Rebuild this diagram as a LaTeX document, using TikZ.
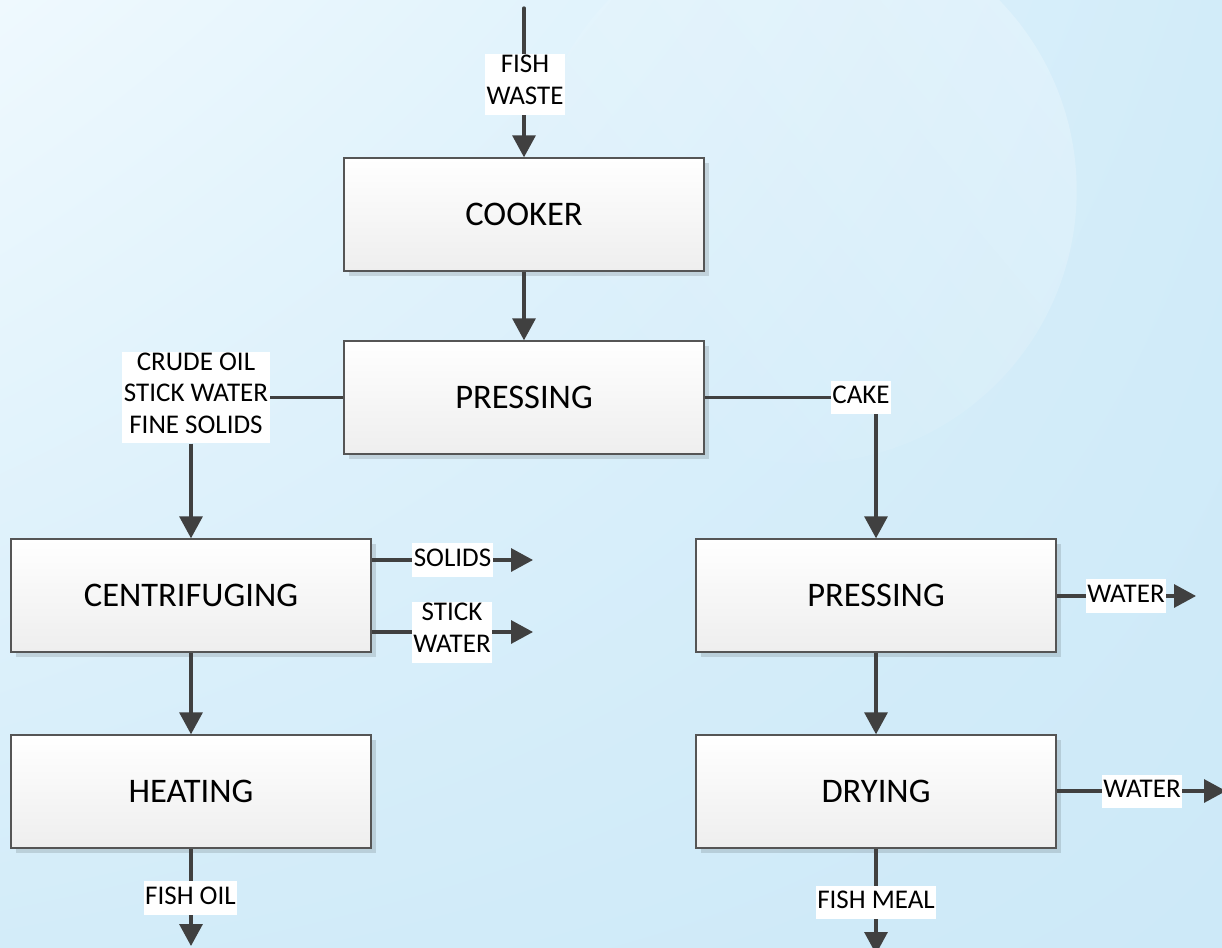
\documentclass[tikz,border=0pt]{standalone}
\usepackage{fontspec}
\setmainfont{Carlito}
\usetikzlibrary{arrows.meta,shadows,shadings,fadings}
\definecolor{lineC}{HTML}{404040}
\definecolor{boxline}{HTML}{555555}
\definecolor{boxbot}{HTML}{EEEEEE}
\definecolor{bgA}{HTML}{EFF9FE}
\definecolor{bgB}{HTML}{D2ECF9}
\definecolor{bgC}{HTML}{D3ECF9}
\definecolor{bgD}{HTML}{CDE9F8}
\newcommand\boxfont{\fontsize{34.5}{41}\selectfont}
\newcommand\lblfont{\fontsize{27}{31.5}\selectfont}
\tikzfading[name=glowfade, left color=transparent!100, right color=transparent!0]
\begin{document}
\begin{tikzpicture}[x=1pt,y=-1pt,
  box/.style={draw=boxline,line width=1.4pt,top color=white,bottom color=boxbot,
    minimum width=360pt,minimum height=113pt,font=\boxfont,
    drop shadow={shadow xshift=5pt,shadow yshift=-5pt,fill=black,opacity=0.12}},
  lbl/.style={fill=white,inner xsep=1.5pt,inner ysep=1pt,align=center,font=\lblfont,
    execute at begin node=\strut,execute at end node=\strut},
  flow/.style={draw=lineC,line width=3.3pt,-{Triangle[width=23pt,length=22pt]}},
  conn/.style={draw=lineC,line width=3.3pt}]
\useasboundingbox (0,0) rectangle (1222,947);
\shade[upper left=bgA,upper right=bgB,lower left=bgC,lower right=bgD] (0,0) rectangle (1222,947);
\fill[white,fill opacity=0.24,path fading=glowfade,fading angle=40] (804,190) circle [radius=273];

\node[box] (cooker) at (524,214.5) {COOKER};
\node[box] (press1) at (524,397.5) {PRESSING};
\node[box] (centr) at (191,595.5) {CENTRIFUGING};
\node[box] (heat) at (191,791.5) {HEATING};
\node[box] (press2) at (876,595.5) {PRESSING};
\node[box] (dry) at (876,791.5) {DRYING};

\coordinate (in) at (524,8);
\draw[flow,line cap=round] (in) -- (cooker.north);
\node[lbl] (lwaste) at (525,84.5) {FISH\\WASTE};
\draw[flow] (cooker) -- (press1);

\node[lbl] (lcrude) at (196,397.5) {CRUDE OIL\\STICK WATER\\FINE SOLIDS};
\draw[conn] (press1.west) -- (press1.west -| lcrude.east);
\draw[flow] (lcrude.south -| centr.north) -- (centr.north);

\node[lbl] (lcake) at (861,397.5) {CAKE};
\draw[conn] (press1.east) -- (press1.east -| lcake.west);
\draw[flow] (lcake.south -| press2.north) -- (press2.north);

\coordinate (solEnd) at (533,560);
\draw[flow] (centr.east |- solEnd) -- (solEnd);
\node[lbl] (lsol) at (452.5,560) {SOLIDS};
\coordinate (stEnd) at (533,632);
\draw[flow] (centr.east |- stEnd) -- (stEnd);
\node[lbl] (lst) at (452,632.5) {STICK\\WATER};

\draw[flow] (centr) -- (heat);
\coordinate (oilEnd) at (191,946);
\draw[flow] (heat.south) -- (oilEnd);
\node[lbl] (loil) at (190.5,898) {FISH OIL};

\coordinate (w1End) at (1196,596);
\draw[flow] (press2.east |- w1End) -- (w1End);
\node[lbl] (lw1) at (1126,596) {WATER};

\draw[flow] (press2) -- (dry);
\coordinate (w2End) at (1226,791);
\draw[flow] (dry.east |- w2End) -- (w2End);
\node[lbl] (lw2) at (1142,791.5) {WATER};

\coordinate (mealEnd) at (876,954);
\draw[flow] (dry.south) -- (mealEnd);
\node[lbl] (lmeal) at (876,902.5) {FISH MEAL};
\end{tikzpicture}
\end{document}
